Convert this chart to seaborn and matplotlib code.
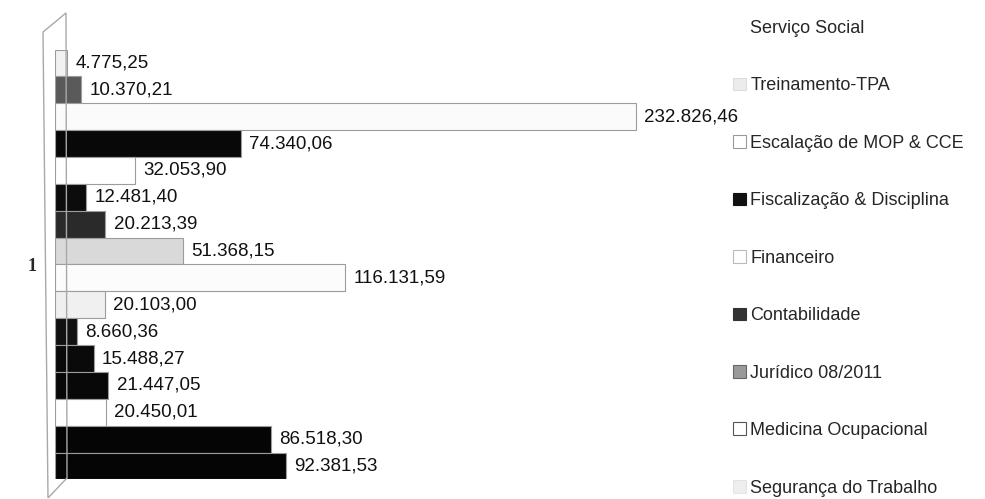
import matplotlib
matplotlib.use("Agg")
import matplotlib.pyplot as plt
from matplotlib.patches import Patch, Polygon
import pandas as pd
import seaborn as sns

# values as printed on the bars (top to bottom)
valores = [4775.25, 10370.21, 232826.46, 74340.06, 32053.90, 12481.40, 20213.39,
           51368.15, 116131.59, 20103.00, 8660.36, 15488.27, 21447.05, 20450.01,
           86518.30, 92381.53]
cores = ["#f2f2f2", "#5a5a5a", "#fbfbfb", "#080808", "#ffffff", "#0c0c0c", "#2a2a2a",
         "#d9d9d9", "#fcfcfc", "#f0f0f0", "#111111", "#0a0a0a", "#080808", "#ffffff",
         "#050505", "#050505"]
categoria = "1"

legenda = ["Serviço Social", "Treinamento-TPA", "Escalação de MOP & CCE",
           "Fiscalização & Disciplina", "Financeiro", "Contabilidade",
           "Jurídico 08/2011", "Medicina Ocupacional", "Segurança do Trabalho"]
legenda_cores = ["none", "#ececec", "#ffffff", "#111111", "#ffffff", "#333333",
                 "#9a9a9a", "#ffffff", "#eeeeee"]
legenda_bordas = ["none", "#dddddd", "#999999", "#111111", "#bbbbbb", "#333333",
                  "#666666", "#555555", "#e4e4e4"]


def fmt_br(v):
    s = f"{v:,.2f}"
    return s.replace(",", "X").replace(".", ",").replace("X", ".")


rotulos = [fmt_br(v) for v in valores]
df = pd.DataFrame({"cat": [categoria] * len(valores), "valor": valores, "serie": rotulos})

sns.set_style("white")
plt.rcParams["font.family"] = ["Liberation Sans", "DejaVu Sans"]

fig = plt.figure(figsize=(9.85, 4.99), dpi=100)
ax = fig.add_axes([0.0558, 0.0393, 0.6335, 0.8613])

sns.barplot(data=df, x="valor", y="cat", hue="serie", hue_order=rotulos,
            palette=dict(zip(rotulos, cores)), orient="h", width=1.0, dodge=True,
            edgecolor="#9c9c9c", linewidth=0.8, legend=False, ax=ax)

for cont, rot in zip(ax.containers, rotulos):
    ax.bar_label(cont, labels=[rot], padding=6, fontsize=13.5, color="#111111")

ax.set_xlim(0, 250000)
ax.set(xlabel="", ylabel="")
ax.set_xticks([])
ax.tick_params(axis="y", length=0, pad=13)
for t in ax.get_yticklabels():
    t.set_fontfamily("Liberation Serif")
    t.set_fontweight("bold")
    t.set_fontsize(13)
for s in ["top", "right", "bottom", "left"]:
    ax.spines[s].set_visible(False)

# the thin 3D side wall
W, H = 985, 499
parede = Polygon([(43 / W, 1 - 32 / H), (66 / W, 1 - 13 / H), (67 / W, 1 - 478 / H),
                  (48 / W, 1 - 498 / H)], closed=True, fill=False,
                 edgecolor="#a8a8a8", linewidth=1.0, transform=fig.transFigure)
fig.patches.append(parede)

handles = [Patch(facecolor=c, edgecolor=b, linewidth=0.8, label=l)
           for l, c, b in zip(legenda, legenda_cores, legenda_bordas)]
fig.legend(handles=handles, loc="upper left", bbox_to_anchor=(733 / W, 1 - 20 / H),
           frameon=False, fontsize=13, handlelength=0.7, handleheight=0.7,
           handletextpad=0.25, labelspacing=2.24, borderpad=0, borderaxespad=0)

fig.savefig("out.png", dpi=100)
